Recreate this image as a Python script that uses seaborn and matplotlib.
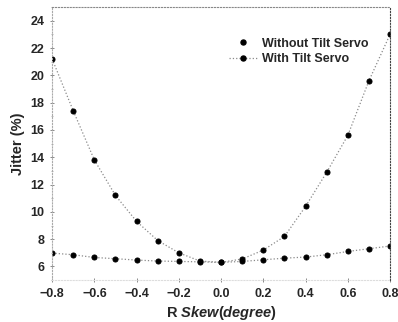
import pandas as pd
import matplotlib
matplotlib.use("Agg")
import matplotlib.pyplot as plt
import seaborn as sns
from matplotlib.lines import Line2D
from matplotlib.ticker import MultipleLocator

skew = [-0.8, -0.7, -0.6, -0.5, -0.4, -0.3, -0.2, -0.1, 0.0,
        0.1, 0.2, 0.3, 0.4, 0.5, 0.6, 0.7, 0.8]

jitter_without = [21.2, 17.4, 13.8, 11.2, 9.3, 7.9, 7.0, 6.4, 6.3,
                  6.55, 7.2, 8.2, 10.4, 12.9, 15.6, 19.6, 23.0]

jitter_with = [6.98, 6.86, 6.66, 6.57, 6.47, 6.4, 6.37, 6.34, 6.3,
               6.37, 6.49, 6.61, 6.69, 6.86, 7.1, 7.3, 7.5]

series_names = ["Without Tilt Servo", "With Tilt Servo"]

df = pd.DataFrame({
    "skew": skew * 2,
    "jitter": jitter_without + jitter_with,
    "series": [series_names[0]] * len(skew) + [series_names[1]] * len(skew),
})

sns.set_style("ticks")
plt.rcParams["font.family"] = ["Liberation Sans", "DejaVu Sans"]
plt.rcParams["mathtext.fontset"] = "custom"
plt.rcParams["mathtext.it"] = "Liberation Sans:bold:italic"
plt.rcParams["mathtext.rm"] = "Liberation Sans:bold"

fig = plt.figure(figsize=(3.98, 3.22), dpi=100)
ax = fig.add_axes([0.131, 0.13, 0.849, 0.848])

for name in series_names:
    sns.lineplot(
        data=df[df["series"] == name],
        x="skew",
        y="jitter",
        ax=ax,
        color="#8a8a8a",
        linestyle=":",
        linewidth=0.9,
        marker="o",
        markersize=3.6,
        markerfacecolor="black",
        markeredgecolor="black",
        legend=False,
    )

ax.set_xlim(-0.8, 0.8)
ax.set_ylim(5, 25)

ax.xaxis.set_major_locator(MultipleLocator(0.2))
ax.yaxis.set_minor_locator(MultipleLocator(1))
ax.set_yticks([6, 8, 10, 12, 14, 16, 18, 20, 22, 24])

ax.tick_params(axis="both", which="major", labelsize=9, length=3,
               width=0.6, color="#777777", direction="inout", pad=4)
ax.tick_params(axis="y", which="minor", length=2, width=0.5,
               color="#999999", direction="inout")
for lbl in ax.get_xticklabels() + ax.get_yticklabels():
    lbl.set_fontweight("bold")

for side in ["top", "right", "left", "bottom"]:
    ax.spines[side].set_linestyle(":")
    ax.spines[side].set_linewidth(0.8)
ax.spines["top"].set_color("#888888")
ax.spines["right"].set_color("#444444")
ax.spines["left"].set_color("#aaaaaa")
ax.spines["bottom"].set_color("#dddddd")

ax.set_xlabel(r"R $\mathit{Skew(degree)}$", fontsize=10.5, fontweight="bold",
              labelpad=3)
ax.set_ylabel("Jitter (%)", fontsize=10.5, fontweight="bold", labelpad=4)

handles = [
    Line2D([], [], linestyle="none", marker="o", markersize=3.6,
           color="black"),
    Line2D([], [], linestyle=":", color="#8a8a8a", linewidth=0.9,
           marker="o", markersize=3.6, markerfacecolor="black",
           markeredgecolor="black"),
]
ax.legend(handles, series_names, loc="upper right",
          bbox_to_anchor=(0.935, 0.888), frameon=False,
          prop={"size": 9, "weight": "bold"},
          handlelength=2.2, handletextpad=0.4, labelspacing=0.3,
          borderpad=0, borderaxespad=0)

fig.savefig("out.png", dpi=100)
